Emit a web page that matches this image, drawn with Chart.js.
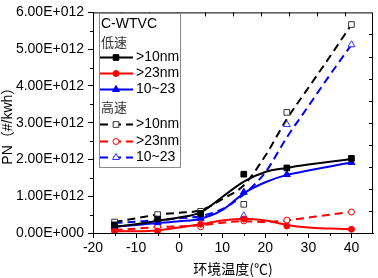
<!DOCTYPE html>
<html>
<head>
<meta charset="utf-8">
<script src="https://cdn.jsdelivr.net/npm/chart.js@4.4.1/dist/chart.umd.min.js"></script>
<style>
html,body{margin:0;padding:0;background:#fff;}
#wrap{width:378px;height:278px;position:relative;}
</style>
</head>
<body>
<div id="wrap"><canvas id="c" width="378" height="278"></canvas></div>
<script>
// ---- data (values in #/kWh) ----
const temps = [-15, -5, 5, 15, 25, 40];
const lowGt10   = [0.22e12, 0.38e12, 0.53e12, 1.60e12, 1.77e12, 2.03e12];
const lowGt23   = [0.05e12, 0.05e12, 0.24e12, 0.38e12, 0.19e12, 0.10e12];
const low10to23 = [0.18e12, 0.28e12, 0.40e12, 1.11e12, 1.59e12, 1.92e12];
const highGt10   = [0.30e12, 0.50e12, 0.59e12, 0.78e12, 3.28e12, 5.67e12];
const highGt23   = [0.08e12, 0.17e12, 0.17e12, 0.33e12, 0.35e12, 0.57e12];
const high10to23 = [0.27e12, 0.35e12, 0.46e12, 0.47e12, 2.95e12, 5.12e12];

// fitted curves
const fitTemps = [-15, -10, -5, 0, 5, 10, 15, 20, 25, 30, 35, 40];
const lowGt10Fit    = [0.17e12, 0.24e12, 0.33e12, 0.42e12, 0.56e12, 0.98e12, 1.40e12, 1.66e12, 1.77e12, 1.86e12, 1.94e12, 2.01e12];
const lowGt23Fit    = [0.05e12, 0.05e12, 0.07e12, 0.15e12, 0.24e12, 0.34e12, 0.39e12, 0.34e12, 0.22e12, 0.15e12, 0.12e12, 0.10e12];
const low10to23Fit  = [0.17e12, 0.22e12, 0.27e12, 0.32e12, 0.39e12, 0.62e12, 1.08e12, 1.38e12, 1.58e12, 1.70e12, 1.81e12, 1.92e12];
const highGt10Fit   = [0.30e12, 0.40e12, 0.50e12, 0.55e12, 0.62e12, 0.92e12, 1.30e12, 2.10e12, 3.10e12, 3.95e12, 4.80e12, 5.67e12];
const highGt23Fit   = [0.08e12, 0.12e12, 0.16e12, 0.18e12, 0.21e12, 0.28e12, 0.32e12, 0.30e12, 0.34e12, 0.42e12, 0.50e12, 0.57e12];
const high10to23Fit = [0.27e12, 0.31e12, 0.35e12, 0.40e12, 0.46e12, 0.65e12, 1.05e12, 1.65e12, 2.60e12, 3.45e12, 4.30e12, 5.12e12];

const xTicks = [-20, -10, 0, 10, 20, 30, 40];
const yTicks = [0, 1e12, 2e12, 3e12, 4e12, 5e12, 6e12];
const yTickLabels = ['0.00E+000', '1.00E+012', '2.00E+012', '3.00E+012', '4.00E+012', '5.00E+012', '6.00E+012'];

const legendTitle = 'C-WTVC';
const groupLow = '低速';
const groupHigh = '高速';
const seriesNames = ['>10nm', '>23nm', '10~23'];
const xTitle = '环境温度(℃)';
const yTitle = 'PN（#/kwh）';

const BLACK = '#000000', RED = '#ff0000', BLUE = '#0000ff';
const FONT = '"Liberation Sans", Arial, "Noto Sans CJK SC", sans-serif';
const CJK = '"Noto Sans CJK SC", "Liberation Sans", sans-serif';

function pts(xs, ys) { return xs.map((x, i) => ({x: x, y: ys[i]})); }

function curve(ys, color, dashed) {
  return {data: pts(fitTemps, ys), showLine: true, borderColor: color, borderWidth: 2,
    borderDash: dashed ? [8, 5] : [], pointRadius: 0, cubicInterpolationMode: 'monotone', order: 2};
}
function marks(ys, color, style, filled, r) {
  return {data: pts(temps, ys), showLine: false, pointStyle: style, pointRadius: r,
    pointBorderWidth: 1, pointBorderColor: color, pointBackgroundColor: filled ? color : '#ffffff', order: 1};
}

const datasets = [
  curve(lowGt10Fit, BLACK, false),
  curve(lowGt23Fit, RED, false),
  curve(low10to23Fit, BLUE, false),
  curve(highGt10Fit, BLACK, true),
  curve(highGt23Fit, RED, true),
  curve(high10to23Fit, BLUE, true),
  marks(lowGt10, BLACK, 'rect', true, 4),
  marks(lowGt23, RED, 'circle', true, 3),
  marks(low10to23, BLUE, 'triangle', true, 4),
  marks(highGt10, '#333333', 'rect', false, 4),
  marks(highGt23, RED, 'circle', false, 3),
  marks(high10to23, '#3333ff', 'triangle', false, 4)
];

const legendRows = [
  {color: BLACK, style: 'rect', filled: true, r: 4, dash: false, label: seriesNames[0]},
  {color: RED, style: 'circle', filled: true, r: 3, dash: false, label: seriesNames[1]},
  {color: BLUE, style: 'triangle', filled: true, r: 4, dash: false, label: seriesNames[2]},
  {color: BLACK, mcolor: '#333333', style: 'rect', filled: false, r: 4, dash: true, label: seriesNames[0]},
  {color: RED, style: 'circle', filled: false, r: 3, dash: true, label: seriesNames[1]},
  {color: BLUE, mcolor: '#3333ff', style: 'triangle', filled: false, r: 4, dash: true, label: seriesNames[2]}
];

const decor = {
  id: 'decor',
  afterDraw(chart) {
    const ctx = chart.ctx, a = chart.chartArea;
    const xs = chart.scales.x, ys = chart.scales.y;
    ctx.save();
    // frame
    ctx.strokeStyle = '#000'; ctx.lineWidth = 1;
    ctx.strokeRect(a.left + 0.5, a.top + 0.5, a.right - a.left - 1, a.bottom - a.top);
    // minor ticks (outside)
    ctx.beginPath();
    for (let v = -15; v < 45; v += 10) {
      const px = Math.round(xs.getPixelForValue(v)) + 0.5;
      ctx.moveTo(px, a.bottom); ctx.lineTo(px, a.bottom + 3);
    }
    for (let v = 0.5e12; v < 6e12; v += 1e12) {
      const py = Math.round(ys.getPixelForValue(v)) + 0.5;
      ctx.moveTo(a.left, py); ctx.lineTo(a.left - 3, py);
    }
    // inner ticks on top and right frame
    const w = a.right - a.left, h = a.bottom - a.top;
    for (let i = 1; i < 10; i++) {
      const px = Math.round(a.left + w * i / 10) + 0.5;
      ctx.moveTo(px, a.top); ctx.lineTo(px, a.top + 4);
      const py = Math.round(a.bottom - h * i / 10) + 0.5;
      ctx.moveTo(a.right, py); ctx.lineTo(a.right - 4, py);
    }
    ctx.stroke();

    // legend box
    const bx = 99, by = 13, bw = 81, bh = 154;
    ctx.fillStyle = '#fff';
    ctx.fillRect(bx, by, bw, bh);
    ctx.strokeStyle = '#888'; ctx.lineWidth = 1;
    ctx.strokeRect(bx + 0.5, by + 0.5, bw, bh);
    ctx.fillStyle = '#000';
    ctx.textBaseline = 'middle'; ctx.textAlign = 'left';
    ctx.font = '14px ' + FONT;
    ctx.fillText(legendTitle, 101, 24);
    ctx.font = '13px ' + CJK;
    ctx.fillStyle = '#333';
    ctx.fillText(groupLow, 101, 42);
    ctx.fillText(groupHigh, 101, 107);
    const rowY = [57, 73, 89, 124, 141, 157];
    legendRows.forEach((r, i) => {
      const y = rowY[i] + 0.5;
      ctx.save();
      ctx.strokeStyle = r.color; ctx.lineWidth = 2;
      ctx.setLineDash(r.dash ? [8, 5] : []);
      ctx.beginPath(); ctx.moveTo(100, y); ctx.lineTo(133, y); ctx.stroke();
      ctx.setLineDash([]);
      ctx.lineWidth = 1;
      ctx.strokeStyle = r.mcolor || r.color;
      ctx.fillStyle = r.filled ? r.color : '#fff';
      Chart.helpers.drawPoint(ctx, {pointStyle: r.style, radius: r.r, rotation: 0, borderWidth: 1}, 116, y);
      ctx.restore();
      ctx.fillStyle = '#000';
      ctx.font = '14px ' + FONT;
      ctx.fillText(r.label, 136, rowY[i]);
    });
    ctx.restore();
  }
};

new Chart(document.getElementById('c'), {
  type: 'scatter',
  data: {datasets: datasets},
  plugins: [decor],
  options: {
    responsive: false,
    animation: false,
    devicePixelRatio: 1,
    layout: {padding: {top: 10, right: 5, left: 0, bottom: 0}},
    plugins: {legend: {display: false}, tooltip: {enabled: false}},
    scales: {
      x: {
        type: 'linear', min: -20, max: 45,
        afterBuildTicks: s => { s.ticks = xTicks.map(v => ({value: v})); },
        afterFit: s => { s.height = 45; },
        ticks: {color: '#000', font: {family: FONT, size: 14}, padding: 2, callback: v => String(v)},
        grid: {drawOnChartArea: false, drawTicks: true, tickLength: 5, color: '#000'},
        border: {display: true, color: '#000', width: 1},
        title: {display: true, text: xTitle, color: '#000', font: {family: CJK, size: 14}, padding: {top: 0, bottom: 1}}
      },
      y: {
        type: 'linear', min: 0, max: 6e12,
        afterBuildTicks: s => { s.ticks = yTicks.map(v => ({value: v})); },
        afterFit: s => { s.width = 93; },
        ticks: {color: '#000', font: {family: FONT, size: 14}, padding: 4,
          callback: v => yTickLabels[yTicks.indexOf(v)]},
        grid: {drawOnChartArea: false, drawTicks: true, tickLength: 5, color: '#000'},
        border: {display: true, color: '#000', width: 1},
        title: {display: true, text: yTitle, color: '#000', font: {family: FONT, size: 14}, padding: {top: 0, bottom: 0}}
      }
    }
  }
});
</script>
</body>
</html>
